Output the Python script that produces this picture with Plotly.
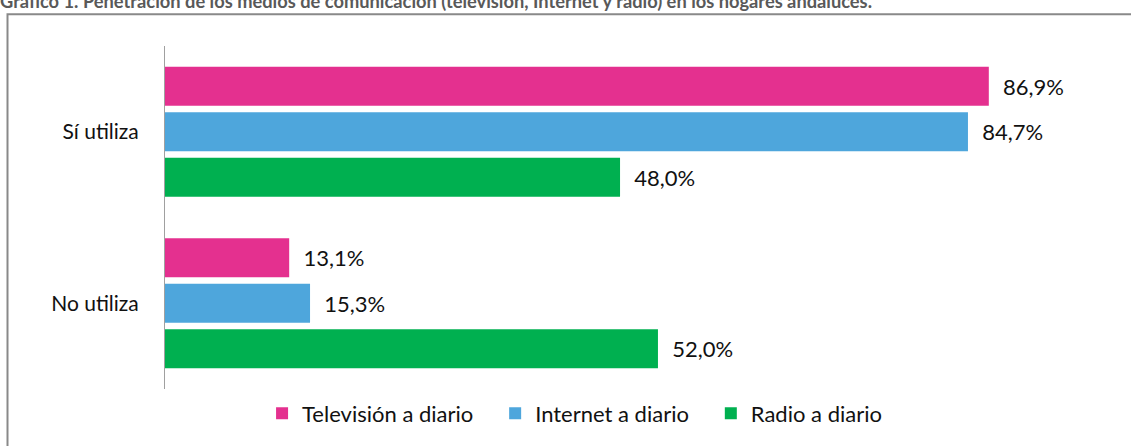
import plotly.graph_objects as go

categories = ["Sí utiliza", "No utiliza"]
series_names = ["Televisión a diario", "Internet a diario", "Radio a diario"]
tv = [86.9, 13.1]
internet = [84.7, 15.3]
radio = [48.0, 52.0]
colors = ["#E4308F", "#4EA6DC", "#00B050"]
title_text = "Gráfico 1. Penetración de los medios de comunicación (televisión, Internet y radio) en los hogares andaluces."

FONT = "Lato"
NB = "\u00a0"
fig = go.Figure()
for name, vals, col in zip(series_names, [tv, internet, radio], colors):
    fig.add_trace(go.Bar(
        y=categories, x=vals, name=name + NB * 3, orientation="h",
        marker=dict(color=col, line=dict(width=0)),
        text=[NB * 2 + f"{v:.1f}%".replace(".", ",") for v in vals],
        textposition="outside", cliponaxis=False,
        textfont=dict(family=FONT, size=22, color="#111111"),
    ))

fig.update_layout(
    width=1131, height=446,
    margin=dict(l=165, r=18, t=46, b=38),
    paper_bgcolor="white", plot_bgcolor="white",
    barmode="group", bargap=0.204, bargroupgap=0.146,
    font=dict(family=FONT, size=22, color="#111111"),
    title=dict(text=title_text, x=0, xanchor="left", xref="container",
               y=1 - 8 / 446, yanchor="bottom", yref="container",
               font=dict(family=FONT, size=18.3, color="#595959", weight="bold")),
    xaxis=dict(range=[0, 100], visible=False),
    yaxis=dict(autorange="reversed", showline=True, linecolor="#A0A0A0", linewidth=1,
               ticks="", ticklabelstandoff=21, showgrid=False,
               tickfont=dict(family=FONT, size=21, color="#111111")),
    legend=dict(orientation="h", x=0.441, xanchor="center", y=-0.01, yanchor="top",
                font=dict(family=FONT, size=22, color="#111111"),
                itemwidth=30, traceorder="normal"),
    showlegend=True,
)
fig.add_shape(type="rect", xref="paper", yref="paper",
              x0=(7.5 - 165) / 948, x1=1.05, y0=-0.2, y1=(408 - 12.5) / 362,
              line=dict(color="#898989", width=2), layer="below")
fig.write_html("out.html", config={"displayModeBar": False},
               post_script="document.body.style.margin='0px';")
